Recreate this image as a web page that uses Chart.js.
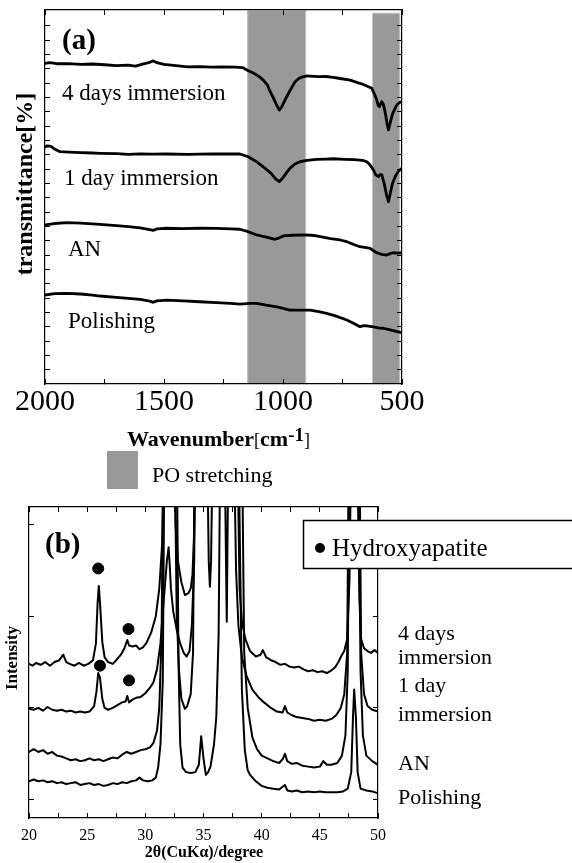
<!DOCTYPE html>
<html><head><meta charset="utf-8">
<script src="https://cdn.jsdelivr.net/npm/chart.js@4.4.1/dist/chart.umd.min.js"></script>
<style>
html,body{margin:0;padding:0;background:#fff;}
body{width:572px;height:863px;position:relative;overflow:hidden;}
#ca{position:absolute;left:0;top:0;}
#cb{position:absolute;left:0;top:490px;}
</style></head><body>
<canvas id="ca" width="572" height="490"></canvas>
<canvas id="cb" width="572" height="373"></canvas>
<script>
// ---------- Panel (a): FT-IR, [wavenumber cm-1, transmittance (arb.)] ----------
const ftirSeriesNames = ['4 days immersion', '1 day immersion', 'AN', 'Polishing'];
const ftir4days = [[2000,22.38],[1980,22.42],[1950,22.35],[1900,22.36],[1850,22.30],[1800,22.33],[1750,22.28],[1700,22.22],[1650,22.25],[1620,22.18],[1590,22.32],[1560,22.45],[1545,22.55],[1530,22.42],[1500,22.30],[1470,22.26],[1440,22.20],[1400,22.13],[1350,22.15],[1300,22.12],[1250,22.13],[1200,22.12],[1170,22.08],[1150,21.90],[1125,21.70],[1100,21.45],[1083,21.21],[1065,20.85],[1055,20.45],[1040,19.95],[1025,19.40],[1015,19.12],[1005,19.35],[985,20.03],[965,20.65],[950,21.08],[935,21.30],[921,21.42],[900,21.50],[887,21.49],[850,21.45],[820,21.46],[789,21.40],[760,21.32],[718,21.21],[690,21.05],[670,20.95],[660,20.88],[648,20.80],[627,20.64],[615,20.20],[606,19.82],[600,19.45],[595,19.35],[590,19.55],[585,19.70],[578,19.50],[570,18.90],[562,18.10],[557,17.73],[550,18.20],[539,18.89],[530,19.20],[522,19.47],[510,19.65],[500,19.70]];
const ftir1day = [[2000,16.55],[1990,16.62],[1975,16.58],[1960,16.40],[1937,16.21],[1900,16.18],[1850,16.15],[1800,16.12],[1769,16.10],[1700,16.08],[1650,16.02],[1600,16.06],[1550,16.04],[1489,16.05],[1400,16.02],[1300,16.06],[1250,16.05],[1181,16.05],[1146,15.86],[1110,15.50],[1083,15.16],[1050,14.70],[1030,14.30],[1015,14.12],[1000,14.40],[985,14.75],[971,15.05],[950,15.35],[929,15.51],[900,15.60],[859,15.68],[820,15.70],[789,15.72],[740,15.68],[700,15.66],[677,15.63],[660,15.58],[648,15.51],[635,15.30],[620,14.93],[610,14.60],[599,14.47],[592,14.62],[585,14.59],[575,14.00],[565,13.20],[557,12.72],[548,13.40],[540,14.00],[529,14.47],[515,14.85],[501,15.05]];
const ftirAN = [[2000,11.10],[1960,11.20],[1909,11.26],[1850,11.22],[1800,11.17],[1769,11.14],[1700,11.05],[1650,10.98],[1600,10.90],[1560,10.78],[1545,10.72],[1530,10.82],[1489,10.87],[1420,10.85],[1349,10.87],[1280,10.86],[1220,10.83],[1181,10.80],[1150,10.65],[1111,10.40],[1070,10.25],[1034,10.10],[1015,10.20],[999,10.33],[960,10.38],[915,10.40],[880,10.38],[859,10.33],[800,10.15],[760,10.05],[732,9.93],[700,9.72],[677,9.58],[650,9.52],[634,9.47],[620,9.30],[606,9.16],[585,9.05],[564,9.00],[550,9.10],[537,9.16],[520,9.14],[501,9.16]];
const ftirPolishing = [[2000,6.21],[1960,6.30],[1909,6.33],[1850,6.28],[1800,6.20],[1769,6.14],[1700,6.05],[1650,5.98],[1600,5.90],[1560,5.78],[1545,5.70],[1530,5.80],[1489,5.86],[1420,5.80],[1349,5.74],[1280,5.68],[1220,5.62],[1181,5.58],[1140,5.62],[1111,5.63],[1070,5.50],[1027,5.39],[1000,5.28],[971,5.16],[930,5.15],[887,5.16],[850,5.05],[817,4.93],[780,4.75],[732,4.47],[700,4.20],[677,4.00],[660,4.08],[648,4.05],[620,3.98],[600,3.92],[578,3.89],[550,3.78],[525,3.68],[501,3.58]];
const ftirBands = [[1150, 903, 26.1], [626, 508, 25.9]];   // [from, to, top] PO stretching regions
const ftirXTicks = [500,750,1000,1250,1500,1750,2000];
const ftirXTickLabels = ['2000','1500','1000','500'];
const ftirYTicks = [1,2,3,4,5,6,7,8,9,10,11,12,13,14,15,16,17,18,19,20,21,22,23,24,25];

// ---------- Panel (b): XRD, [2theta deg, intensity (arb., offset)] ----------
const xrdSeriesNames = ['4 days immersion', '1 day immersion', 'AN', 'Polishing'];
const xrd4days = [[20.0,1.48],[20.3,1.46],[20.6,1.49],[21.0,1.47],[21.4,1.50],[21.8,1.46],[22.2,1.50],[22.6,1.52],[22.95,1.58],[23.2,1.50],[23.5,1.48],[23.9,1.46],[24.3,1.49],[24.7,1.46],[25.1,1.48],[25.5,1.52],[25.75,1.70],[25.9,2.15],[26.0,2.33],[26.1,2.15],[26.3,1.72],[26.5,1.55],[26.8,1.50],[27.2,1.48],[27.5,1.52],[27.9,1.58],[28.2,1.65],[28.45,1.74],[28.6,1.68],[28.9,1.67],[29.2,1.68],[29.5,1.64],[29.8,1.66],[30.1,1.71],[30.5,1.82],[30.9,2.0],[31.2,2.3],[31.45,2.8],[31.65,4],[32.5,4],[32.6,3.0],[32.8,2.6],[33.1,2.37],[33.4,2.23],[33.7,2.25],[33.9,2.3],[34.05,2.45],[34.2,2.9],[34.3,4],[35.3,4],[35.45,2.6],[35.55,2.32],[35.65,2.6],[35.8,4],[37.9,4],[38.1,2.3],[38.3,1.95],[38.6,1.75],[39.0,1.62],[39.5,1.56],[39.9,1.58],[40.1,1.63],[40.4,1.55],[40.8,1.52],[41.2,1.50],[41.6,1.47],[42.0,1.48],[42.4,1.45],[42.8,1.44],[43.2,1.45],[43.6,1.42],[44.0,1.40],[44.4,1.41],[44.8,1.39],[45.2,1.40],[45.6,1.38],[46.0,1.41],[46.3,1.44],[46.6,1.50],[46.9,1.58],[47.1,1.62],[47.35,1.75],[47.55,2.4],[47.7,4],[48.2,4],[48.4,2.2],[48.55,1.75],[48.8,1.65],[49.1,1.62],[49.4,1.60],[49.7,1.63],[50.0,1.60]];
const xrd1day = [[20.0,0.99],[20.4,0.98],[20.8,1.00],[21.2,0.97],[21.6,1.01],[22.0,0.98],[22.4,0.97],[22.8,0.98],[23.2,0.96],[23.6,0.97],[24.0,0.95],[24.4,0.96],[24.8,0.95],[25.2,0.96],[25.6,1.02],[25.8,1.18],[25.95,1.38],[26.1,1.33],[26.3,1.10],[26.5,1.00],[26.8,0.98],[27.2,1.00],[27.6,1.03],[28.0,1.06],[28.3,1.07],[28.45,1.13],[28.6,1.06],[28.9,1.09],[29.2,1.11],[29.6,1.12],[30.0,1.16],[30.4,1.22],[30.7,1.28],[31.0,1.42],[31.3,1.7],[31.6,2.2],[31.85,2.6],[32.0,2.75],[32.1,2.55],[32.2,2.3],[32.4,2.05],[32.7,1.85],[33.0,1.7],[33.3,1.6],[33.55,1.56],[33.8,1.62],[34.0,1.9],[34.2,2.6],[34.3,4],[36.8,4],[37.0,1.94],[37.15,4],[37.6,4],[37.8,2.5],[38.0,1.9],[38.3,1.55],[38.7,1.35],[39.2,1.2],[39.7,1.12],[40.2,1.06],[40.8,1.0],[41.3,0.96],[41.8,0.95],[42.0,1.02],[42.2,0.95],[42.6,0.92],[43.0,0.90],[43.5,0.89],[44.0,0.88],[44.5,0.86],[45.0,0.87],[45.5,0.86],[46.0,0.88],[46.4,0.92],[46.8,1.0],[47.1,1.15],[47.35,1.6],[47.5,4],[48.4,4],[48.55,1.6],[48.8,1.15],[49.1,1.02],[49.5,0.98],[50.0,0.96]];
const xrdAN = [[20.0,0.52],[20.4,0.55],[20.8,0.52],[21.2,0.54],[21.6,0.50],[22.0,0.52],[22.4,0.48],[22.8,0.47],[23.2,0.45],[23.6,0.43],[24.0,0.44],[24.4,0.42],[24.8,0.43],[25.2,0.45],[25.6,0.43],[26.0,0.44],[26.4,0.42],[26.8,0.44],[27.2,0.46],[27.6,0.45],[28.0,0.49],[28.4,0.52],[28.8,0.50],[29.2,0.52],[29.6,0.54],[30.0,0.55],[30.4,0.57],[30.7,0.62],[31.0,0.75],[31.2,1.0],[31.4,1.8],[31.55,4],[32.5,4],[32.7,2.0],[32.9,1.4],[33.1,1.1],[33.4,0.99],[33.6,1.02],[33.9,1.15],[34.1,1.6],[34.25,4],[38.3,4],[38.5,1.6],[38.8,1.0],[39.2,0.68],[39.6,0.55],[40.0,0.48],[40.5,0.45],[41.0,0.42],[41.5,0.40],[41.8,0.44],[42.0,0.50],[42.2,0.42],[42.6,0.39],[43.0,0.40],[43.5,0.37],[44.0,0.36],[44.5,0.35],[45.0,0.36],[45.3,0.42],[45.6,0.38],[46.0,0.38],[46.5,0.40],[46.9,0.48],[47.2,0.7],[47.4,1.4],[47.55,4],[48.3,4],[48.5,1.4],[48.7,0.7],[49.0,0.48],[49.5,0.42],[50.0,0.38]];
const xrdPolishing = [[20.0,0.20],[20.4,0.22],[20.8,0.20],[21.2,0.21],[21.6,0.19],[22.0,0.20],[22.4,0.18],[22.8,0.19],[23.2,0.17],[23.6,0.18],[24.0,0.19],[24.4,0.16],[24.8,0.17],[25.2,0.18],[25.6,0.16],[26.0,0.17],[26.4,0.15],[26.8,0.16],[27.2,0.18],[27.6,0.17],[28.0,0.19],[28.4,0.18],[28.8,0.20],[29.2,0.21],[29.5,0.24],[29.8,0.21],[30.2,0.20],[30.6,0.21],[30.9,0.24],[31.1,0.35],[31.3,0.6],[31.5,1.3],[31.65,4],[32.7,4],[32.85,1.5],[33.0,0.6],[33.2,0.35],[33.5,0.30],[33.9,0.29],[34.3,0.30],[34.6,0.38],[34.8,0.69],[35.0,0.45],[35.2,0.27],[35.4,0.30],[35.6,0.36],[35.9,0.6],[36.1,0.9],[36.3,1.8],[36.45,4],[38.0,4],[38.3,1.2],[38.55,0.54],[38.8,0.32],[39.0,0.27],[39.5,0.20],[40.0,0.15],[40.5,0.13],[41.0,0.12],[41.5,0.11],[41.8,0.14],[42.0,0.16],[42.2,0.10],[42.6,0.09],[43.0,0.10],[43.5,0.08],[44.0,0.09],[44.5,0.08],[45.0,0.09],[45.5,0.08],[46.0,0.08],[46.5,0.08],[47.0,0.09],[47.4,0.12],[47.7,0.3],[47.85,0.9],[47.95,1.2],[48.1,0.9],[48.25,0.3],[48.5,0.12],[49.0,0.10],[49.5,0.09],[50.0,0.07]];
const hydroxyapatiteMarks = [[25.95,2.52],[28.55,1.86],[26.1,1.46],[28.6,1.30]];
const xrdXTicks = [20,22.5,25,27.5,30,32.5,35,37.5,40,42.5,45,47.5,50];
const xrdXTickLabels = ['20','25','30','35','40','45','50'];
const xrdYTicks = [0,1,2,3];

// ---------- drawing ----------
const SERIF = "'Liberation Serif','Times New Roman',serif";
const toXY = arr => arr.map(p => ({x: p[0], y: p[1]}));
const lineDs = (label, arr, w) => ({label, data: toXY(arr), borderColor:'#000', borderWidth:w, pointRadius:0,
  tension:0, fill:false, borderJoinStyle:'round', borderCapStyle:'round'});

function frameScales(xOpt, yOpt, xH, yW) {
  const gridIn = {drawOnChartArea:false, drawTicks:true, tickLength:-5, color:'#000', lineWidth:1, z:1};
  const border = {display:true, color:'#000', width:1.2, z:1};
  return {
    x: Object.assign({type:'linear', position:'bottom', grid:gridIn, border,
        afterFit: s => { s.height = xH; }}, xOpt),
    x2: {type:'linear', position:'top', min:xOpt.min, max:xOpt.max, reverse:!!xOpt.reverse,
        afterBuildTicks:xOpt.afterBuildTicks, ticks:{display:false}, grid:gridIn, border,
        afterFit: s => { s.height = 0; }},
    y: Object.assign({type:'linear', position:'left', ticks:{display:false}, grid:gridIn, border,
        afterFit: s => { s.width = yW; }}, yOpt),
    y2: Object.assign({type:'linear', position:'right', ticks:{display:false}, grid:gridIn, border,
        afterFit: s => { s.width = 0; }}, yOpt)
  };
}

function runs(ctx, parts, x, y) {
  let cx = x;
  parts.forEach(p => { ctx.font = p.f; ctx.fillText(p.t, cx, y - (p.up || 0)); cx += ctx.measureText(p.t).width; });
}

const bandPlugin = {
  id: 'bands',
  beforeDatasetsDraw(chart) {
    const {ctx, chartArea, scales} = chart;
    ctx.save();
    ftirBands.forEach(b => {
      const x1 = scales.x.getPixelForValue(b[0]), x2 = scales.x.getPixelForValue(b[1]);
      const yt = scales.y.getPixelForValue(b[2]);
      ctx.fillStyle = '#999999';
      ctx.fillRect(Math.min(x1, x2), yt, Math.abs(x2 - x1), chartArea.bottom - yt);
      ctx.strokeStyle = '#c4c4c4'; ctx.lineWidth = 1;
      ctx.strokeRect(Math.min(x1, x2) + 0.5, yt + 0.5, Math.abs(x2 - x1) - 1, chartArea.bottom - yt - 1);
    });
    ctx.restore();
  }
};

const textA = {
  id: 'textA',
  afterDraw(chart) {
    const ctx = chart.ctx;
    ctx.save();
    ctx.fillStyle = '#000'; ctx.textBaseline = 'alphabetic'; ctx.textAlign = 'left';
    ctx.font = `bold 29px ${SERIF}`; ctx.fillText('(a)', 62, 49);
    ctx.font = `23px ${SERIF}`;
    ctx.fillText(ftirSeriesNames[0], 62, 100);
    ctx.fillText(ftirSeriesNames[1], 64, 185);
    ctx.fillText(ftirSeriesNames[2], 68, 256);
    ctx.fillText(ftirSeriesNames[3], 68, 328);
    // axis titles
    runs(ctx, [
      {t:'Wavenumber', f:`bold 22px ${SERIF}`},
      {t:'[', f:`18px ${SERIF}`},
      {t:'cm', f:`bold 22px ${SERIF}`},
      {t:'-1', f:`bold 19px ${SERIF}`, up:5},
      {t:']', f:`18px ${SERIF}`}
    ], 127, 446);
    ctx.save();
    ctx.translate(32, 184); ctx.rotate(-Math.PI / 2);
    ctx.font = `bold 24px ${SERIF}`; ctx.textAlign = 'center';
    ctx.fillText('transmittance[%]', 0, 0);
    ctx.restore();
    // legend
    ctx.fillStyle = '#999999'; ctx.fillRect(107, 451, 31, 38);
    ctx.fillStyle = '#000'; ctx.font = `22px ${SERIF}`;
    ctx.fillText('PO stretching', 152, 482);
    ctx.restore();
  }
};

const textB = {
  id: 'textB',
  afterDraw(chart) {
    const ctx = chart.ctx;
    ctx.save();
    ctx.fillStyle = '#000'; ctx.textBaseline = 'alphabetic'; ctx.textAlign = 'left';
    ctx.font = `bold 29px ${SERIF}`; ctx.fillText('(b)', 45, 63);
    // legend box
    ctx.fillStyle = '#fff'; ctx.fillRect(303, 30, 280, 48);
    ctx.strokeStyle = '#000'; ctx.lineWidth = 1.5; ctx.strokeRect(303.5, 30.5, 280, 48);
    ctx.fillStyle = '#000';
    ctx.beginPath(); ctx.arc(320, 58, 5, 0, Math.PI * 2); ctx.fill();
    ctx.font = `25px ${SERIF}`; ctx.fillText('Hydroxyapatite', 332, 66);
    // right-hand labels
    ctx.font = `22px ${SERIF}`;
    ctx.fillText('4 days', 398, 150);
    ctx.fillText('immersion', 398, 174);
    ctx.fillText('1 day', 398, 202);
    ctx.fillText('immersion', 398, 231);
    ctx.fillText(xrdSeriesNames[2], 398, 280);
    ctx.fillText(xrdSeriesNames[3], 398, 314);
    // axis titles
    ctx.textAlign = 'center';
    ctx.font = `bold 16px ${SERIF}`;
    ctx.fillText('2θ(CuKα)/degree', 204, 367);
    ctx.save();
    ctx.translate(17, 168); ctx.rotate(-Math.PI / 2);
    ctx.font = `bold 17px ${SERIF}`;
    ctx.fillText('Intensity', 0, 0);
    ctx.restore();
    ctx.restore();
  }
};

Chart.defaults.font.family = SERIF;
Chart.defaults.color = '#000';

new Chart(document.getElementById('ca'), {
  type: 'line',
  data: { datasets: [
    lineDs(ftirSeriesNames[0], ftir4days, 2.8),
    lineDs(ftirSeriesNames[1], ftir1day, 2.8),
    lineDs(ftirSeriesNames[2], ftirAN, 2.8),
    lineDs(ftirSeriesNames[3], ftirPolishing, 2.8)
  ]},
  options: {
    responsive:false, animation:false, devicePixelRatio:1,
    layout:{padding:{top:10, right:170, left:0, bottom:0}},
    plugins:{legend:{display:false}, tooltip:{enabled:false}},
    scales: frameScales(
      {min:500, max:2000, reverse:true,
       afterBuildTicks: s => { s.ticks = ftirXTicks.map(v => ({value:v})); },
       ticks:{autoSkip:false, maxRotation:0, padding:5, color:'#000', font:{family:SERIF, size:30},
              callback: v => ftirXTickLabels.includes(String(v)) ? String(v) : ''}},
      {min:0, max:26.1, afterBuildTicks: s => { s.ticks = ftirYTicks.map(v => ({value:v})); }},
      106, 45)
  },
  plugins:[bandPlugin, textA]
});

new Chart(document.getElementById('cb'), {
  type: 'line',
  data: { datasets: [
    lineDs(xrdSeriesNames[0], xrd4days, 2),
    lineDs(xrdSeriesNames[1], xrd1day, 2),
    lineDs(xrdSeriesNames[2], xrdAN, 2),
    lineDs(xrdSeriesNames[3], xrdPolishing, 2),
    {type:'scatter', label:'Hydroxyapatite', data: toXY(hydroxyapatiteMarks), pointRadius:5.5,
     pointBackgroundColor:'#000', pointBorderColor:'#000', showLine:false}
  ]},
  options: {
    responsive:false, animation:false, devicePixelRatio:1,
    layout:{padding:{top:17, right:194, left:0, bottom:0}},
    plugins:{legend:{display:false}, tooltip:{enabled:false}},
    scales: frameScales(
      {min:20, max:50,
       afterBuildTicks: s => { s.ticks = xrdXTicks.map(v => ({value:v})); },
       ticks:{autoSkip:false, maxRotation:0, padding:13, color:'#000', font:{family:SERIF, size:16},
              callback: v => xrdXTickLabels.includes(String(v)) ? String(v) : ''}},
      {min:-0.2, max:3.19, afterBuildTicks: s => { s.ticks = xrdYTicks.map(v => ({value:v})); }},
      45, 29)
  },
  plugins:[textB]
});
</script></body></html>
